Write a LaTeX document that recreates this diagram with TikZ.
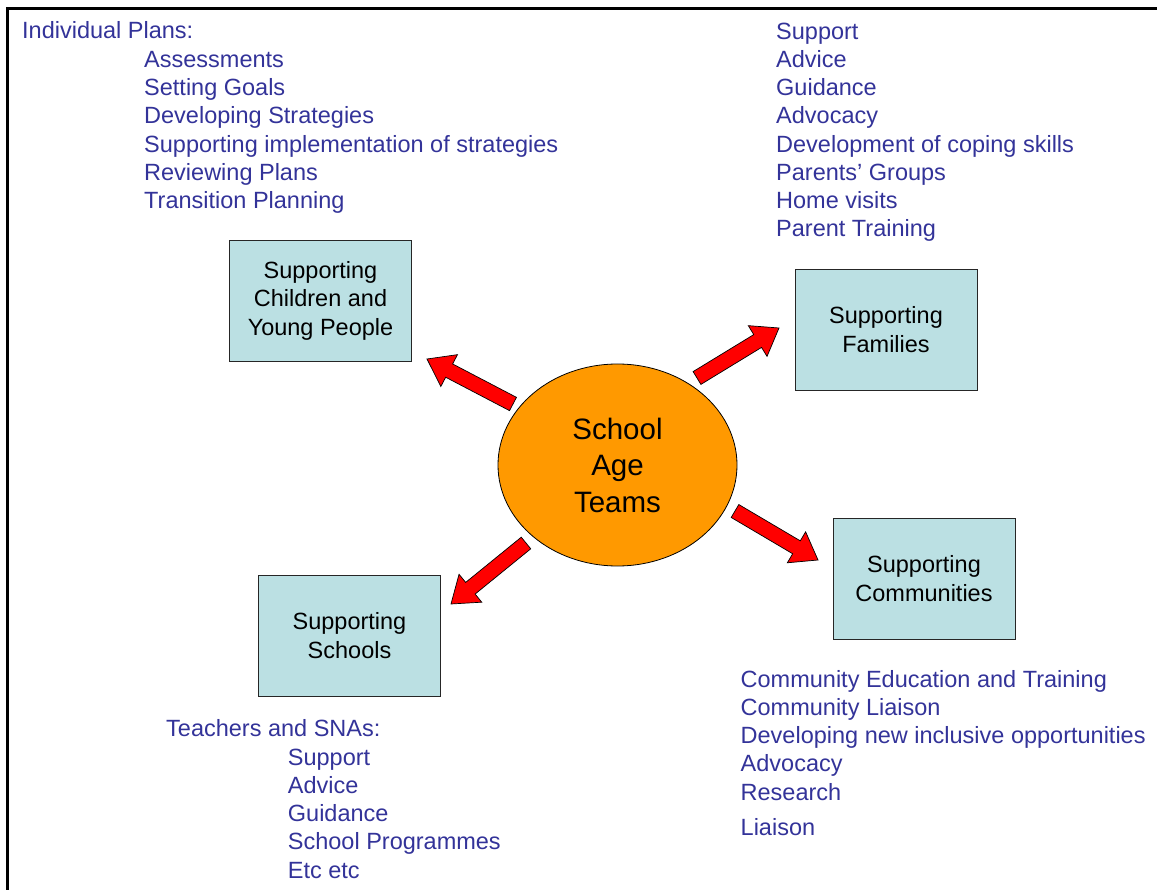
\documentclass[tikz,border=0pt]{standalone}
\usepackage{fontspec}
\setmainfont{Liberation Sans}
\usetikzlibrary{calc,shapes.geometric}
\definecolor{txtblue}{HTML}{333399}
\definecolor{boxfill}{HTML}{BBE0E3}
\definecolor{orangefill}{HTML}{FF9900}
\newcommand\blkarrow[2]{%
  \coordinate (h) at ($(#2)!25pt!(#1)$);
  \draw[blockarr] ($(#1)!7.5pt!90:(#2)$) -- ($(h)!7.5pt!-90:(#1)$) -- ($(h)!18pt!-90:(#1)$) -- (#2)
     -- ($(h)!18pt!90:(#1)$) -- ($(h)!7.5pt!90:(#1)$) -- ($(#1)!7.5pt!-90:(#2)$) -- cycle;
}
\tikzset{
  lst/.style={anchor=base west, inner sep=0pt, text=txtblue, font=\fontsize{23.5}{28.3}\selectfont},
  suppbox/.style={draw=black!85, line width=0.9pt, fill=boxfill, minimum width=182pt, minimum height=121pt,
     align=center, inner sep=0pt, font=\fontsize{23.5}{28.5}\selectfont},
  hub/.style={ellipse, draw=black, line width=0.8pt, fill=orangefill, minimum width=239pt, minimum height=202pt,
     align=center, inner sep=0pt, font=\fontsize{29.5}{36.5}\selectfont},
  blockarr/.style={draw=black, line width=0.7pt, fill=red, line join=miter},
  frame/.style={line width=2.6pt, black}
}
\begin{document}
\begin{tikzpicture}[x=1pt,y=-1pt]
\useasboundingbox (0,0) rectangle (1157,890);
% frame
\draw[frame] (7.5,890) -- (7.5,8.5) -- (1157,8.5);

% hub
\node[hub] (hub) at (617.5,465) {School\\Age\\Teams};

% boxes
\node[suppbox] (children) at (320.5,300.5) {Supporting\\Children and\\Young People};
\node[suppbox] (families) at (886,329.5) {Supporting\\Families};
\node[suppbox] (schools) at (349.5,635.5) {Supporting\\Schools};
\node[suppbox] (communities) at (924,578.5) {Supporting\\Communities};

% arrows
\coordinate (nwT) at (513,404); \coordinate (nwP) at (427,359);
\coordinate (neT) at (697,378); \coordinate (neP) at (779,328);
\coordinate (seT) at (735,511); \coordinate (seP) at (818,560);
\coordinate (swT) at (526,543); \coordinate (swP) at (451,604);
\blkarrow{nwT}{nwP}
\blkarrow{neT}{neP}
\blkarrow{seT}{seP}
\blkarrow{swT}{swP}

% top-left list
\node[lst] (ipHead) at (22,39) {Individual Plans:};
\foreach \t [count=\i] in {Assessments,Setting Goals,Developing Strategies,Supporting implementation of strategies,Reviewing Plans,Transition Planning}
  \node[lst] (ip\i) at (144,39+28.3*\i) {\t};

% top-right list
\foreach \t [count=\i from 0] in {Support,Advice,Guidance,Advocacy,Development of coping skills,Parents’ Groups,Home visits,Parent Training}
  \node[lst] (fam\i) at (776,39.3+28.2*\i) {\t};

% bottom-right list
\foreach \t [count=\i from 0] in {Community Education and Training,Community Liaison,Developing new inclusive opportunities,Advocacy,Research}
  \node[lst] (com\i) at (740.5,687.3+28.2*\i) {\t};
\node[lst] (com5) at (740.5,835) {Liaison};

% bottom-left list
\node[lst] (schHead) at (166,736.7) {Teachers and SNAs:};
\foreach \t [count=\i from 0] in {Support,Advice,Guidance,School Programmes,Etc etc}
  \node[lst] (sch\i) at (287.7,765+28.3*\i) {\t};
\end{tikzpicture}
\end{document}
